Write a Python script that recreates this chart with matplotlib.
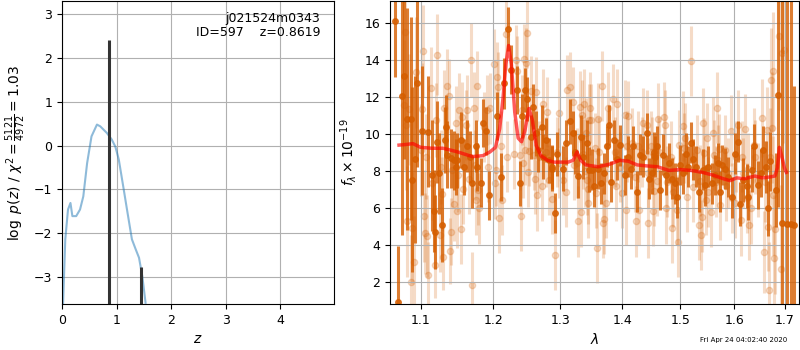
import numpy as np
import matplotlib
matplotlib.use('Agg')
import matplotlib.pyplot as plt
from matplotlib.ticker import FixedLocator, FormatStrFormatter, NullLocator

# ---- p(z) panel
pz_z = [0.02, 0.06, 0.11, 0.155, 0.19, 0.26, 0.33, 0.39, 0.46, 0.54, 0.64, 0.70,
        0.82, 0.91, 0.975, 1.0, 1.04, 1.13, 1.19, 1.28, 1.35, 1.41, 1.47, 1.53]
pz_logp = [-3.6, -2.14, -1.46, -1.31, -1.61, -1.61, -1.46, -1.16, -0.4, 0.21, 0.48, 0.44,
           0.29, 0.14, -0.02, -0.13, -0.32, -1.0, -1.46, -2.14, -2.37, -2.56, -2.98, -3.59]
peak_z = [0.8619, 1.45]
peak_top = [2.40, -2.77]
field = 'j021524m0343'
obj_id = 597
zbest = 0.8619

# ---- spectrum, first beam (dark)
w1 = [1.0672, 1.0710, 1.0762, 1.0788, 1.0826, 1.0878, 1.0891, 1.0930, 1.0957, 1.1022,
      1.1102, 1.1155, 1.1182, 1.1195, 1.1222, 1.1249, 1.1289, 1.1330, 1.1343, 1.1357,
      1.1411, 1.1453, 1.1480, 1.1494, 1.1549, 1.1591, 1.1633, 1.1674, 1.1702, 1.1758,
      1.1772, 1.1829, 1.1857, 1.1900, 1.1943, 1.2057, 1.2115, 1.2159, 1.2218, 1.2262,
      1.2350, 1.2394, 1.2424, 1.2469, 1.2499, 1.2558, 1.2588, 1.2634, 1.2664, 1.2710,
      1.2740, 1.2786, 1.2817, 1.2863, 1.2878, 1.2924, 1.2955, 1.3033, 1.3095, 1.3143,
      1.3190, 1.3237, 1.3269, 1.3317, 1.3349, 1.3413, 1.3445, 1.3493, 1.3526, 1.3591,
      1.3640, 1.3689, 1.3738, 1.3771, 1.3804, 1.3853, 1.3903, 1.3953, 1.4037, 1.4087,
      1.4138, 1.4172, 1.4240, 1.4291, 1.4343, 1.4412, 1.4446, 1.4498, 1.4533, 1.4550,
      1.4585, 1.4638, 1.4690, 1.4743, 1.4796, 1.4849, 1.4903, 1.4938, 1.4993, 1.5047,
      1.5101, 1.5137, 1.5191, 1.5228, 1.5283, 1.5338, 1.5411, 1.5448, 1.5503, 1.5577,
      1.5632, 1.5689, 1.5726, 1.5764, 1.5820, 1.5877, 1.5953, 1.6010, 1.6068, 1.6108,
      1.6166, 1.6243, 1.6263, 1.6341, 1.6380, 1.6459, 1.6518, 1.6557, 1.6617, 1.6657,
      1.6697, 1.6817, 1.6857, 1.6938, 1.7040, 1.7119, 1.7181]
f1 = [16.1, 0.95, 12.05, 13.15, 10.85, 10.85, 7.55, 8.65, 12.75, 10.2,
      10.15, 7.8, 5.85, 4.75, 9.6, 7.9, 5.1, 9.7, 10.4, 8.9,
      8.7, 8.6, 8.25, 8.6, 9.7, 8.25, 9.35, 8.8, 7.4, 9.35,
      8.25, 7.4, 10.6, 10.2, 6.7, 11.0, 7.7, 12.75, 15.7, 13.5,
      12.4, 7.35, 11.0, 12.4, 11.9, 9.85, 11.5, 10.05, 9.15, 10.4,
      8.8, 9.7, 8.6, 8.25, 8.15, 5.75, 8.95, 8.15, 9.55, 10.7,
      10.05, 9.05, 7.75, 9.85, 8.8, 9.55, 8.1, 8.1, 7.2, 8.15,
      7.35, 7.9, 9.35, 10.5, 7.45, 9.7, 8.65, 9.4, 7.8, 8.8,
      8.15, 9.35, 6.9, 8.9, 8.8, 10.05, 7.6, 7.9, 9.05, 8.8,
      9.35, 7.0, 8.9, 7.8, 8.45, 7.6, 7.35, 6.6, 8.35, 7.9,
      8.95, 8.25, 9.55, 8.65, 8.25, 6.9, 8.1, 7.25, 8.25, 7.35,
      7.8, 8.45, 6.9, 8.35, 8.15, 7.7, 6.6, 8.95, 9.6, 6.25,
      7.55, 7.2, 6.6, 8.1, 9.35, 7.25, 7.9, 9.15, 8.25, 6.0,
      8.55, 7.0, 12.1, 5.2, 5.15, 5.15, 5.1]
e1 = [3.0, 3.0, 7.5, 4.5, 6.0, 5.5, 5.0, 4.5, 4.5, 3.5,
      3.0, 3.0, 2.2, 2.0, 2.2, 2.2, 2.0, 1.8, 1.7, 1.8,
      1.6, 1.6, 1.5, 1.5, 1.5, 1.5, 1.4, 1.4, 1.4, 1.4,
      1.3, 1.3, 1.3, 1.3, 1.3, 1.3, 1.3, 1.4, 1.2, 1.3,
      1.3, 1.2, 1.2, 1.2, 1.2, 1.2, 1.2, 1.2, 1.2, 1.2,
      1.2, 1.2, 1.2, 1.2, 1.2, 1.1, 1.2, 1.2, 1.2, 1.2,
      1.2, 1.2, 1.2, 1.2, 1.2, 1.2, 1.2, 1.1, 1.1, 1.1,
      1.1, 1.1, 1.1, 1.1, 1.1, 1.1, 1.1, 1.1, 1.1, 1.1,
      1.1, 1.1, 1.1, 1.1, 1.1, 1.1, 1.1, 1.1, 1.1, 1.1,
      1.1, 1.1, 1.1, 1.1, 1.1, 1.1, 1.1, 1.1, 1.1, 1.1,
      1.1, 1.1, 1.1, 1.1, 1.1, 1.1, 1.1, 1.1, 1.1, 1.1,
      1.1, 1.1, 1.1, 1.1, 1.1, 1.1, 1.1, 1.1, 1.1, 1.2,
      1.2, 1.2, 1.2, 1.2, 1.2, 1.3, 1.3, 1.3, 1.4, 1.5,
      1.6, 2.0, 6.0, 12.0, 15.0, 15.0, 7.5]

# ---- spectrum, second beam (faint)
w2 = [1.0788, 1.0800, 1.0813, 1.0826, 1.0852, 1.0878, 1.0891, 1.0917, 1.0943, 1.1009,
      1.1022, 1.1035, 1.1048, 1.1062, 1.1075, 1.1088, 1.1102, 1.1142, 1.1155, 1.1195,
      1.1208, 1.1222, 1.1262, 1.1276, 1.1289, 1.1302, 1.1316, 1.1357, 1.1384, 1.1398,
      1.1411, 1.1425, 1.1453, 1.1480, 1.1494, 1.1508, 1.1521, 1.1549, 1.1563, 1.1577,
      1.1619, 1.1633, 1.1660, 1.1688, 1.1702, 1.1730, 1.1744, 1.1758, 1.1772, 1.1786,
      1.1801, 1.1871, 1.1914, 1.1928, 1.1957, 1.2014, 1.2028, 1.2043, 1.2057, 1.2071,
      1.2086, 1.2115, 1.2129, 1.2188, 1.2203, 1.2306, 1.2335, 1.2350, 1.2394, 1.2409,
      1.2424, 1.2439, 1.2454, 1.2469, 1.2484, 1.2499, 1.2513, 1.2528, 1.2558, 1.2603,
      1.2618, 1.2634, 1.2649, 1.2679, 1.2710, 1.2740, 1.2786, 1.2801, 1.2817, 1.2878,
      1.2909, 1.2940, 1.2971, 1.2986, 1.3033, 1.3095, 1.3111, 1.3143, 1.3190, 1.3206,
      1.3253, 1.3269, 1.3301, 1.3317, 1.3333, 1.3349, 1.3365, 1.3381, 1.3397, 1.3413,
      1.3429, 1.3437, 1.3445, 1.3461, 1.3477, 1.3542, 1.3558, 1.3574, 1.3591, 1.3607,
      1.3656, 1.3672, 1.3689, 1.3722, 1.3738, 1.3754, 1.3837, 1.3870, 1.3886, 1.3903,
      1.3953, 1.3987, 1.4037, 1.4054, 1.4071, 1.4087, 1.4155, 1.4206, 1.4223, 1.4257,
      1.4274, 1.4326, 1.4343, 1.4412, 1.4429, 1.4438, 1.4481, 1.4498, 1.4515, 1.4533,
      1.4585, 1.4602, 1.4620, 1.4708, 1.4725, 1.4743, 1.4761, 1.4832, 1.4849, 1.4867,
      1.4938, 1.4956, 1.4974, 1.5047, 1.5065, 1.5083, 1.5119, 1.5191, 1.5228, 1.5301,
      1.5338, 1.5355, 1.5373, 1.5392, 1.5411, 1.5429, 1.5466, 1.5484, 1.5503, 1.5559,
      1.5596, 1.5614, 1.5653, 1.5671, 1.5689, 1.5707, 1.5726, 1.5820, 1.5839, 1.5877,
      1.5934, 1.5953, 1.6010, 1.6030, 1.6068, 1.6128, 1.6147, 1.6166, 1.6205, 1.6243,
      1.6263, 1.6283, 1.6321, 1.6380, 1.6400, 1.6459, 1.6538, 1.6577, 1.6597, 1.6637,
      1.6657, 1.6677, 1.6697, 1.6717, 1.6737, 1.6757, 1.6767, 1.6777, 1.6797, 1.6877,
      1.6918, 1.6938, 1.6978]
f2 = [11.6, 15.55, 10.5, 5.3, 11.35, 2.05, 4.95, 3.1, 13.35, 9.15,
      11.35, 14.5, 5.6, 4.65, 8.8, 4.5, 2.4, 12.5, 7.35, 2.95,
      10.8, 14.3, 4.55, 8.25, 6.8, 3.4, 11.45, 12.6, 12.05, 3.7,
      4.75, 8.05, 6.25, 10.6, 5.85, 7.8, 11.3, 4.9, 10.95, 7.05,
      10.5, 11.3, 7.6, 14.0, 1.85, 11.45, 8.35, 6.45, 12.6, 7.0,
      6.0, 10.4, 11.3, 8.25, 11.4, 13.8, 7.35, 8.05, 13.1, 12.55,
      5.5, 9.35, 6.45, 15.4, 8.8, 8.95, 14.0, 13.4, 8.9, 5.6,
      11.3, 8.45, 14.05, 9.15, 13.85, 15.5, 7.95, 9.1, 12.35, 8.9,
      7.6, 12.3, 6.7, 8.8, 7.2, 11.65, 9.05, 11.2, 7.55, 6.5,
      3.5, 9.05, 11.15, 8.45, 7.55, 6.9, 12.4, 12.55, 11.75, 8.35,
      8.45, 5.3, 11.5, 5.8, 11.05, 8.95, 11.65, 8.0, 10.05, 7.55,
      6.3, 7.05, 10.8, 11.45, 10.8, 9.25, 6.85, 3.85, 10.85, 9.05,
      12.6, 5.2, 5.45, 6.3, 9.35, 11.45, 11.9, 9.05, 7.2, 11.65,
      8.25, 6.85, 11.05, 5.9, 9.35, 11.0, 9.55, 7.7, 5.3, 9.35,
      5.9, 9.05, 10.6, 10.5, 5.2, 7.9, 9.35, 9.05, 5.85, 6.95,
      7.5, 10.85, 9.05, 10.95, 10.5, 6.0, 7.45, 8.8, 4.95, 6.9,
      5.9, 4.2, 9.4, 10.45, 9.25, 9.8, 6.6, 13.95, 7.15, 9.15,
      5.1, 7.5, 4.55, 5.55, 10.6, 9.0, 6.45, 9.8, 6.9, 5.8,
      10.1, 8.9, 7.45, 11.45, 8.6, 9.2, 6.2, 9.15, 7.2, 7.9,
      10.2, 6.55, 6.3, 8.8, 10.5, 5.35, 8.8, 7.9, 10.3, 6.55,
      8.15, 5.1, 6.0, 9.4, 8.8, 7.55, 10.9, 3.65, 7.45, 10.25,
      5.0, 1.6, 8.8, 12.95, 10.35, 13.4, 6.7, 3.3, 4.9, 15.3,
      2.75, 14.4, 14.55]
e2 = [3.5, 3.5, 3.5, 3.0, 3.0, 2.5, 3.0, 2.5, 3.0, 2.5,
      2.5, 2.5, 2.5, 2.2, 2.3, 2.2, 1.8, 2.2, 2.0, 1.8,
      2.0, 2.2, 2.0, 2.0, 2.0, 1.8, 2.0, 2.0, 2.0, 1.8,
      1.8, 2.0, 2.0, 2.0, 2.0, 2.0, 2.0, 1.9, 1.9, 1.9,
      1.9, 1.9, 1.9, 2.0, 1.8, 1.9, 1.9, 1.9, 1.9, 1.9,
      1.9, 1.9, 1.9, 1.9, 1.9, 1.9, 1.9, 1.9, 1.9, 1.9,
      1.9, 1.9, 1.9, 1.9, 1.9, 1.9, 1.9, 1.9, 1.9, 1.9,
      1.9, 1.9, 1.9, 1.9, 1.9, 1.9, 1.9, 1.9, 1.9, 1.9,
      1.9, 1.9, 1.9, 1.9, 1.9, 1.9, 1.9, 1.9, 1.9, 1.9,
      1.9, 1.9, 1.9, 1.9, 1.9, 1.9, 1.9, 1.9, 1.9, 1.9,
      1.9, 1.9, 1.9, 1.9, 1.9, 1.9, 1.9, 1.9, 1.9, 1.9,
      1.9, 1.9, 1.9, 1.9, 1.9, 1.9, 1.9, 1.9, 1.9, 1.9,
      1.9, 1.9, 1.9, 1.9, 1.9, 1.9, 1.9, 1.9, 1.9, 1.9,
      1.9, 1.9, 1.9, 1.9, 1.9, 1.9, 1.9, 1.9, 1.9, 1.9,
      1.9, 1.9, 1.9, 1.9, 1.9, 1.9, 1.9, 1.9, 1.9, 1.9,
      1.9, 1.9, 1.9, 1.9, 1.9, 1.9, 1.9, 1.9, 1.9, 1.9,
      1.9, 1.9, 1.9, 1.9, 1.9, 1.9, 1.9, 1.9, 1.9, 1.9,
      1.9, 1.9, 1.9, 1.9, 1.9, 1.9, 1.9, 1.9, 1.9, 1.9,
      1.9, 1.9, 1.9, 1.9, 1.9, 1.9, 1.9, 1.9, 1.9, 1.9,
      1.9, 1.9, 1.9, 1.9, 1.9, 1.9, 1.9, 1.9, 1.9, 1.9,
      1.9, 1.9, 1.9, 2.0, 2.0, 2.0, 2.1, 2.2, 2.2, 2.3,
      2.4, 2.6, 2.6, 2.8, 3.0, 3.2, 3.2, 3.4, 3.5, 4.0,
      4.5, 5.0, 5.0]

# ---- best-fit model
wm = [1.072, 1.080, 1.090, 1.100, 1.115, 1.130, 1.150, 1.170, 1.185, 1.195,
      1.203, 1.209, 1.214, 1.218, 1.222, 1.226, 1.231, 1.236, 1.241, 1.246,
      1.252, 1.257, 1.263, 1.270, 1.280, 1.290, 1.300, 1.312, 1.320, 1.326,
      1.332, 1.340, 1.360, 1.380, 1.395, 1.410, 1.425, 1.440, 1.460, 1.480,
      1.500, 1.520, 1.540, 1.560, 1.580, 1.592, 1.605, 1.620, 1.640, 1.655,
      1.670, 1.680, 1.685, 1.689, 1.694, 1.699, 1.703]
fm = [9.42, 9.45, 9.5, 9.3, 9.25, 9.25, 9.05, 8.8, 8.85, 9.05,
      9.3, 10.3, 12.0, 13.8, 14.8, 13.8, 11.2, 9.8, 9.6, 10.2,
      11.4, 10.8, 9.4, 8.85, 8.6, 8.5, 8.5, 8.5, 8.6, 9.05,
      8.6, 8.35, 8.25, 8.4, 8.6, 8.55, 8.35, 8.3, 8.25, 8.05,
      8.1, 8.05, 7.95, 7.8, 7.6, 7.5, 7.65, 7.6, 7.75, 7.65,
      7.7, 7.75, 8.2, 9.3, 8.8, 8.2, 7.95]

g141 = (0.8352941176470589, 0.3686274509803922, 0.0)

fig = plt.figure(figsize=(8, 3.5), dpi=100)

ax = fig.add_axes([0.0775, 0.131, 0.34, 0.866])
ax.plot(pz_z, pz_logp, color='C0', alpha=0.5, lw=1.5)
for zz, top in zip(peak_z, peak_top):
    ax.vlines(zz, -3.62, top, color='0.2', lw=2.2)
ax.set_xlim(0, 4.98)
ax.set_ylim(-3.62, 3.3)
ax.set_xticks([0, 1, 2, 3, 4])
ax.grid()
ax.tick_params(labelsize=9)
ax.set_xlabel('$z$', fontsize=10)
ax.set_ylabel(r'$\log\ p(z)$' + ' / ' + r'$\chi^2=\frac{5121}{4972}=1.03$', fontsize=10)
ax.text(0.95, 0.965, '{0}\nID={1}    z={2:.4f}'.format(field, obj_id, zbest),
        ha='right', va='top', transform=ax.transAxes, fontsize=9, linespacing=1.1)

ax2 = fig.add_axes([0.4875, 0.131, 0.51125, 0.866])
ax2.errorbar(w2, f2, e2, marker='o', linestyle='None', color=g141, alpha=0.22,
             ms=4.5, elinewidth=2.2, zorder=1)
ax2.errorbar(w1, f1, e1, marker='o', linestyle='None', color=g141, alpha=0.8,
             ms=4, elinewidth=2.2, zorder=2)
ax2.plot(wm, fm, color='r', alpha=0.65, lw=2.5, zorder=3)
ax2.set_xscale('log')
ax2.set_xlim(1.0605, 1.729)
ax2.set_ylim(0.83, 17.2)
ax2.xaxis.set_major_locator(FixedLocator([1.1, 1.2, 1.3, 1.4, 1.5, 1.6, 1.7]))
ax2.xaxis.set_major_formatter(FormatStrFormatter('%.1f'))
ax2.xaxis.set_minor_locator(NullLocator())
ax2.set_yticks([2, 4, 6, 8, 10, 12, 14, 16])
ax2.grid()
ax2.tick_params(labelsize=9)
ax2.set_xlabel(r'$\lambda$', fontsize=10)
ax2.set_ylabel(r'$f_\lambda\times10^{-19}$', fontsize=10)

fig.text(0.984, 0.028, 'Fri Apr 24 04:02:40 2020', ha='right', va='center', fontsize=5)

fig.savefig('out.png', dpi=100)
